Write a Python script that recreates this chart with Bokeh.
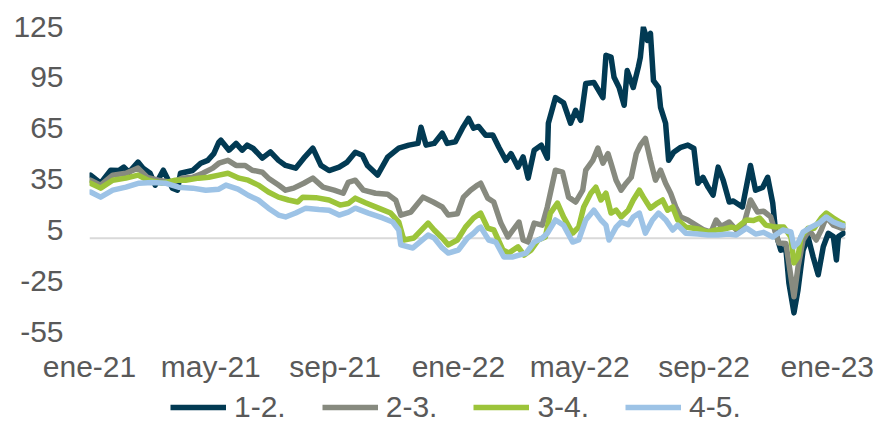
import pandas as pd
from bokeh.plotting import figure
from bokeh.layouts import column
from bokeh.models import Span, Legend, LegendItem, FixedTicker, Range1d
from bokeh.embed import file_html
from bokeh.resources import INLINE

# ---------------- data ----------------
series_names = ["1-2.", "2-3.", "3-4.", "4-5."]

s12_dates = ["2021-01-02","2021-01-12","2021-01-22","2021-01-30","2021-02-04","2021-02-09","2021-02-18","2021-02-23","2021-03-02","2021-03-07",
             "2021-03-15","2021-03-24","2021-03-29","2021-04-01","2021-04-13","2021-04-21","2021-04-28","2021-05-04","2021-05-09","2021-05-11",
             "2021-05-19","2021-05-26","2021-06-01","2021-06-06","2021-06-12","2021-06-21","2021-06-29","2021-07-07","2021-07-14","2021-07-24",
             "2021-08-01","2021-08-10","2021-08-18","2021-08-26","2021-09-05","2021-09-13","2021-09-21","2021-09-28","2021-10-03","2021-10-13",
             "2021-10-23","2021-11-03","2021-11-13","2021-11-22","2021-11-25","2021-11-30","2021-12-08","2021-12-16","2021-12-21","2021-12-29",
             "2022-01-05","2022-01-11","2022-01-16","2022-01-21","2022-01-28","2022-02-04","2022-02-10","2022-02-17","2022-02-22","2022-03-01",
             "2022-03-06","2022-03-11","2022-03-17","2022-03-24","2022-03-30","2022-03-31","2022-04-07","2022-04-15","2022-04-22","2022-04-27",
             "2022-05-02","2022-05-07","2022-05-15","2022-05-24","2022-05-27","2022-06-01","2022-06-04","2022-06-09","2022-06-14","2022-06-17",
             "2022-06-23","2022-06-28","2022-06-30","2022-07-03","2022-07-07","2022-07-10","2022-07-13","2022-07-18","2022-07-20","2022-07-25",
             "2022-07-28","2022-08-02","2022-08-09","2022-08-16","2022-08-22","2022-08-26","2022-08-31","2022-09-05","2022-09-10","2022-09-15",
             "2022-09-20","2022-09-26","2022-09-30","2022-10-09","2022-10-17","2022-10-22","2022-10-29","2022-11-03","2022-11-08","2022-11-11",
             "2022-11-16","2022-11-21","2022-11-24","2022-11-29","2022-12-03","2022-12-08","2022-12-13","2022-12-18","2022-12-23","2022-12-28",
             "2023-01-02","2023-01-07","2023-01-10","2023-01-12","2023-01-17"]
s12_vals = [37.3,32.5,40.2,40,42,39,45,41.4,38.4,31.4,
            40.2,29.6,28.4,38.4,40,44.3,46,50,56.7,57.9,
            52,56,52,55,53,47.3,51,46,43,41.4,
            47.3,53.2,43,40,42,45,50.8,49,43,37.3,
            47.9,53.2,55,56,65.5,55,56,62,56,57,
            65,70.8,65,66,60.8,61,53.7,46,50,42,
            48,35.5,52,55,47.3,67.9,83,80,67.9,75.5,
            69.6,91.4,92,83,108,107,95,89,78.5,99,
            89,101,106.7,124.4,116.8,121,93,89,77.3,67.9,
            46,50.8,53.7,55,53,32.5,36,30.2,25.5,42,
            34.3,21.4,22,18.5,43,28.4,30,36,20.8,3,
            -7,-6,-26.4,-44,-30.5,-7,0.6,-11,-21.5,-5,
            3,1,-12.8,1,3]

s23_dates = ["2021-01-02","2021-01-12","2021-01-24","2021-02-06","2021-02-18","2021-02-27","2021-03-10","2021-03-24","2021-04-03","2021-04-13",
             "2021-04-23","2021-05-03","2021-05-09","2021-05-18","2021-05-26","2021-06-04","2021-06-11","2021-06-21","2021-06-27","2021-07-07",
             "2021-07-14","2021-07-22","2021-08-01","2021-08-10","2021-08-20","2021-08-31","2021-09-09","2021-09-14","2021-09-21","2021-09-29",
             "2021-10-11","2021-10-23","2021-10-31","2021-11-05","2021-11-15","2021-11-27","2021-12-07","2021-12-16","2021-12-22","2021-12-31",
             "2022-01-06","2022-01-13","2022-01-20","2022-01-23","2022-01-30","2022-02-05","2022-02-12","2022-02-19","2022-02-24","2022-03-02",
             "2022-03-06","2022-03-11","2022-03-17","2022-03-25","2022-03-30","2022-04-07","2022-04-14","2022-04-20","2022-04-27","2022-05-04",
             "2022-05-07","2022-05-14","2022-05-19","2022-05-24","2022-05-29","2022-06-01","2022-06-06","2022-06-11","2022-06-16","2022-06-21",
             "2022-06-26","2022-06-30","2022-07-05","2022-07-10","2022-07-15","2022-07-20","2022-07-25","2022-07-30","2022-08-04","2022-08-09",
             "2022-08-16","2022-08-24","2022-09-01","2022-09-08","2022-09-13","2022-09-18","2022-09-26","2022-10-03","2022-10-09","2022-10-17",
             "2022-10-24","2022-10-30","2022-11-06","2022-11-09","2022-11-14","2022-11-21","2022-11-26","2022-11-29","2022-12-03","2022-12-08",
             "2022-12-14","2022-12-21","2022-12-26","2022-12-31","2023-01-07","2023-01-15","2023-01-17"]
s23_vals = [34.3,31.4,37.3,38.4,41.4,36,34.3,33,35.5,36,
            38.4,41.4,44.3,46,43,43,40.2,39,35.5,31.4,
            28.4,29.6,32.5,35.5,30.2,28.4,26.6,33,34.3,28.4,
            26.6,26,22.5,13.7,15.5,24.3,21.4,18.5,13.7,14.5,
            24.3,28.4,31.4,32.5,23.7,21.4,9,0.8,4.9,9.6,
            -1,-2.2,9,7.8,18.5,40.2,39,24.3,21.4,28.4,
            40.2,46,53.2,44.3,50,44.3,34.3,28.4,32.5,36,
            50,55,59,46,34.3,40.2,32.5,26.6,18.5,12.6,
            10.8,7.8,4.9,3.7,10.8,7,9.6,4.9,5,22.6,
            15.5,16,12.6,6.7,-2.8,-3,-22.7,-34.5,-17,-1,
            4.9,-1,4.9,12.6,7.8,6,6]

s34_dates = ["2021-01-02","2021-01-12","2021-01-24","2021-02-06","2021-02-18","2021-02-28","2021-03-14","2021-03-27","2021-04-06","2021-04-19",
             "2021-04-29","2021-05-09","2021-05-18","2021-05-29","2021-06-07","2021-06-17","2021-06-27","2021-07-07","2021-07-17","2021-07-26",
             "2021-07-31","2021-08-13","2021-08-26","2021-09-06","2021-09-14","2021-09-21","2021-10-01","2021-10-14","2021-10-26","2021-11-03",
             "2021-11-08","2021-11-18","2021-12-02","2021-12-08","2021-12-16","2021-12-22","2021-12-31","2022-01-08","2022-01-16","2022-01-23",
             "2022-01-30","2022-02-05","2022-02-14","2022-02-20","2022-03-01","2022-03-07","2022-03-14","2022-03-21","2022-03-28","2022-04-02",
             "2022-04-09","2022-04-15","2022-04-24","2022-04-30","2022-05-05","2022-05-12","2022-05-17","2022-05-22","2022-05-27","2022-06-01",
             "2022-06-06","2022-06-11","2022-06-18","2022-06-23","2022-06-29","2022-07-03","2022-07-10","2022-07-17","2022-07-22","2022-07-27",
             "2022-08-01","2022-08-06","2022-08-14","2022-08-26","2022-09-05","2022-09-13","2022-09-21","2022-09-28","2022-10-03","2022-10-13",
             "2022-10-20","2022-10-26","2022-11-01","2022-11-11","2022-11-19","2022-11-26","2022-11-29","2022-12-03","2022-12-06","2022-12-13",
             "2022-12-19","2022-12-26","2022-12-31","2023-01-07","2023-01-15","2023-01-17"]
s34_vals = [32.5,29.6,34.3,35.5,37.3,34.3,32.5,34.3,34.3,35.5,
            36,37.3,38.4,35.5,34.3,31.4,27.3,24.3,22.6,21.4,
            24.3,24,22.6,19.6,20.5,23.7,21,17.8,14.9,9.6,
            -1,0.2,9,4.9,0.2,-3.9,-1,6.6,12,14.9,
            6,4.9,-6.9,-8.7,-5,-9.9,-6.9,-1,0.8,14.9,
            20.8,12.6,3,6.6,18.5,26.6,30.2,22.6,26.6,14.9,
            16.6,12.6,16.6,22.6,28.4,24.3,17.8,20.8,22.6,16.6,
            18.5,10.8,6.6,5.5,3.7,4.9,5.5,6.6,6,10.8,
            10.5,12,7.8,6.6,6.6,0.8,-14.5,-11,0.8,6,
            6,12,14.9,12,9,8.5]

s45_dates = ["2021-01-02","2021-01-12","2021-01-24","2021-02-06","2021-02-19","2021-03-04","2021-03-17","2021-03-30","2021-04-13","2021-04-26",
             "2021-05-09","2021-05-16","2021-05-28","2021-06-07","2021-06-17","2021-06-27","2021-07-07","2021-07-14","2021-07-24","2021-08-03",
             "2021-08-16","2021-08-26","2021-09-05","2021-09-14","2021-09-21","2021-10-04","2021-10-18","2021-10-28","2021-11-03","2021-11-05",
             "2021-11-17","2021-12-02","2021-12-08","2021-12-16","2021-12-22","2022-01-01","2022-01-10","2022-01-16","2022-01-21","2022-01-23",
             "2022-01-31","2022-02-07","2022-02-15","2022-02-24","2022-03-02","2022-03-09","2022-03-17","2022-03-25","2022-03-30","2022-04-07",
             "2022-04-15","2022-04-24","2022-04-30","2022-05-07","2022-05-15","2022-05-22","2022-05-27","2022-05-30","2022-06-06","2022-06-11",
             "2022-06-18","2022-06-23","2022-06-29","2022-07-05","2022-07-12","2022-07-18","2022-07-25","2022-08-01","2022-08-06","2022-08-14",
             "2022-08-26","2022-09-05","2022-09-15","2022-09-25","2022-10-03","2022-10-13","2022-10-22","2022-10-30","2022-11-08","2022-11-18",
             "2022-11-26","2022-11-29","2022-12-03","2022-12-08","2022-12-16","2022-12-24","2022-12-31","2023-01-07","2023-01-15","2023-01-17"]
s45_vals = [27.3,24.3,28.4,30.2,32.5,33,32.5,30.2,29.6,28.4,
            29,31.4,29,25.4,22.6,17.8,13.7,12.6,14.9,17.8,
            17,16.6,13.7,15.5,17.8,14.9,12,9.6,4.9,-3.9,
            -5.7,1.9,0.2,-5.7,-8.7,-6.9,0.2,3,6,6.6,
            -1,-2.2,-11,-11,-9.9,-8.7,-2.2,0.2,3,10.8,
            7.8,-2.2,-1,10.8,16.6,10.8,7.8,-1,6.6,9.6,
            8,12.6,14.9,3,10.8,14.9,11,4.9,7.8,3,
            2.5,1.9,2,2.5,1.9,6,2.5,3.5,0.8,4.9,
            3.7,-5,-2.8,3.7,6.6,9,12.6,9.6,7.8,7.5]

y_ticks = [-55, -25, 5, 35, 65, 95, 125]
y_tick_labels = ["-55", "-25", "5", "35", "65", "95", "125"]
x_tick_dates = ["2021-01-01", "2021-05-01", "2021-09-01", "2022-01-01", "2022-05-01", "2022-09-01", "2023-01-01"]
x_tick_labels = ["ene-21", "may-21", "sep-21", "ene-22", "may-22", "sep-22", "ene-23"]

colors = ["#023A53", "#878A7F", "#9CC43A", "#9DC3E6"]

# ---------------- main figure ----------------
FONT = "Liberation Sans"
TXT = "#595959"
FS = "30px"

p = figure(width=879, height=385, x_axis_type="datetime",
           output_backend="svg", toolbar_location=None,
           x_range=Range1d(pd.Timestamp("2021-01-01"), pd.Timestamp("2023-01-19")),
           y_range=Range1d(-55, 125),
           min_border_left=89, min_border_right=34, min_border_top=26, min_border_bottom=53)
p.outline_line_color = None
p.xgrid.visible = False
p.ygrid.visible = False
p.background_fill_color = "white"
p.border_fill_color = "white"

zero = Span(location=0, dimension="width", line_color="#D9D9D9", line_width=2, level="underlay")
p.add_layout(zero)

all_dates = [s12_dates, s23_dates, s34_dates, s45_dates]
all_vals = [s12_vals, s23_vals, s34_vals, s45_vals]
for d, v, c in zip(all_dates, all_vals, colors):
    p.line(pd.to_datetime(d), v, line_color=c, line_width=5.5,
           line_join="round", line_cap="round")

p.yaxis.ticker = FixedTicker(ticks=y_ticks)
p.yaxis.major_label_overrides = {t: lab for t, lab in zip(y_ticks, y_tick_labels)}
tick_ms = [int(pd.Timestamp(d).value // 10**6) for d in x_tick_dates]
p.xaxis.ticker = FixedTicker(ticks=tick_ms)
p.xaxis.major_label_overrides = {t: lab for t, lab in zip(tick_ms, x_tick_labels)}
for ax in (p.xaxis, p.yaxis):
    ax.axis_line_color = None
    ax.major_tick_line_color = None
    ax.minor_tick_line_color = None
    ax.major_tick_in = 0
    ax.major_tick_out = 0
    ax.minor_tick_in = 0
    ax.minor_tick_out = 0
    ax.major_label_text_font = FONT
    ax.major_label_text_font_size = FS
    ax.major_label_text_color = TXT
p.yaxis.major_label_standoff = 26
p.xaxis.major_label_standoff = 18

# ---------------- legend strip ----------------
lg = figure(width=879, height=40, output_backend="svg", toolbar_location=None,
            x_range=Range1d(0, 1), y_range=Range1d(0, 1),
            x_axis_location=None, y_axis_location=None,
            min_border_left=0, min_border_right=0, min_border_top=0, min_border_bottom=0)
lg.outline_line_color = None
lg.xgrid.visible = False
lg.ygrid.visible = False
lg.border_fill_color = "white"
lg.background_fill_color = "white"
# legend-only renderers, placed outside the visible range of the strip
dummies = [lg.line([2, 3], [2, 3], line_color=c, line_width=5.5) for c in colors]
legend = Legend(items=[LegendItem(label=n, renderers=[r]) for n, r in zip(series_names, dummies)],
                orientation="horizontal", location=(81, 1),
                label_text_font=FONT, label_text_font_size=FS, label_text_color=TXT,
                glyph_width=56, glyph_height=20, label_standoff=8, spacing=36,
                padding=0, margin=0, border_line_color=None, background_fill_alpha=0)
lg.add_layout(legend)

layout = column(p, lg, spacing=0)
open("out.html", "w").write(file_html(layout, INLINE))
